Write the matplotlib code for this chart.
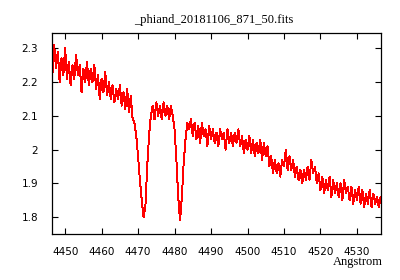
import numpy as np
import matplotlib
matplotlib.use("Agg")
import matplotlib.pyplot as plt

wl_start = 4446.5
wl_step = 0.5
flux = [
    # 4446.5 - 4465.0
    2.22, 2.31, 2.24, 2.29, 2.20, 2.27, 2.22, 2.30, 2.21, 2.26,
    2.19, 2.25, 2.21, 2.28, 2.22, 2.25, 2.17, 2.24, 2.20, 2.26,
    2.19, 2.24, 2.20, 2.25, 2.18, 2.22, 2.15, 2.21, 2.17, 2.23,
    2.16, 2.20, 2.15, 2.19, 2.14, 2.18, 2.15, 2.19,
    # 4465.5 - 4474.0  (He I 4471)
    2.13, 2.17, 2.12, 2.18, 2.11, 2.16, 2.09, 2.08, 2.04, 1.98,
    1.91, 1.85, 1.80, 1.83, 1.95, 2.04, 2.10, 2.13,
    # 4474.5 - 4484.5  (Mg II 4481)
    2.09, 2.14, 2.10, 2.13, 2.09, 2.14, 2.10, 2.13, 2.09, 2.13,
    2.10, 2.06, 1.97, 1.86, 1.79, 1.86, 1.96, 2.03, 2.08, 2.06,
    2.09,
    # 4485.0 - 4509.5
    2.04, 2.08, 2.03, 2.07, 2.02, 2.08, 2.04, 2.06, 2.01, 2.07,
    2.03, 2.06, 2.02, 2.05, 2.01, 2.06, 2.03, 2.05, 2.00, 2.06,
    2.02, 2.05, 2.01, 2.05, 2.02, 2.06, 2.01, 2.04, 1.99, 2.03,
    2.00, 2.04, 1.99, 2.03, 1.98, 2.02, 1.99, 2.03, 1.97, 2.02,
    1.98, 2.01, 1.95, 1.98, 1.93, 1.97, 1.93, 1.96, 1.92, 1.97,
    # 4510.0 - 4536.5
    1.95, 2.00, 1.94, 1.98, 1.94, 1.97, 1.92, 1.95, 1.91, 1.94,
    1.90, 1.94, 1.91, 1.95, 1.91, 1.97, 1.93, 1.95, 1.90, 1.93,
    1.88, 1.92, 1.87, 1.91, 1.88, 1.92, 1.86, 1.91, 1.87, 1.90,
    1.86, 1.90, 1.85, 1.91, 1.87, 1.89, 1.85, 1.89, 1.84, 1.88,
    1.85, 1.89, 1.84, 1.88, 1.83, 1.87, 1.84, 1.88, 1.83, 1.87,
    1.84, 1.86, 1.83, 1.86,
]
wl = wl_start + wl_step * np.arange(len(flux))

xticks = [4450, 4460, 4470, 4480, 4490, 4500, 4510, 4520, 4530]
yticks = [1.8, 1.9, 2.0, 2.1, 2.2, 2.3]
ytick_labels = ["1.8", "1.9", "2", "2.1", "2.2", "2.3"]

fig = plt.figure(figsize=(4, 2.8), dpi=100)
ax = fig.add_axes([0.13, 0.164, 0.8225, 0.718])

ax.plot(wl, flux, color="#ff0000", lw=0.7, antialiased=False)

ax.set_xlim(4446.4, 4536.6)
ax.set_ylim(1.75, 2.345)
ax.set_xticks(xticks)
ax.set_yticks(yticks)
ax.set_yticklabels(ytick_labels)
ax.tick_params(direction="in", length=4, width=0.8, top=True, right=True,
               labelsize=7.5)
ax.tick_params(axis="x", pad=9)
ax.tick_params(axis="y", pad=10)
for s in ax.spines.values():
    s.set_linewidth(0.9)

fig.text(0.535, 0.93, "_phiand_20181106_871_50.fits", ha="center", va="center",
         family="Liberation Serif", fontsize=9)
fig.text(0.958, 0.065, "Angstrom", ha="right", va="center",
         family="Liberation Serif", fontsize=9)

fig.savefig("out.png", dpi=100)
